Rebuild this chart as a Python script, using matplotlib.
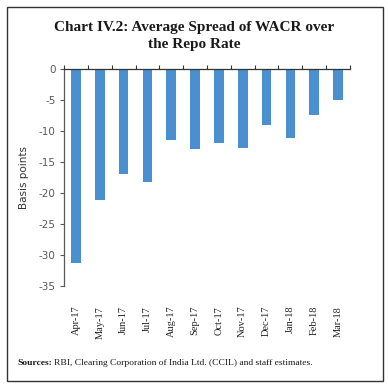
import matplotlib
matplotlib.use("Agg")
import matplotlib.pyplot as plt
from matplotlib.patches import Rectangle

months = ["Apr-17", "May-17", "Jun-17", "Jul-17", "Aug-17", "Sep-17",
          "Oct-17", "Nov-17", "Dec-17", "Jan-18", "Feb-18", "Mar-18"]
spread = [-31.2, -21.0, -16.8, -18.1, -11.3, -12.8,
          -11.8, -12.6, -8.9, -11.0, -7.4, -5.0]
yticks = [0, -5, -10, -15, -20, -25, -30, -35]

fig = plt.figure(figsize=(3.88, 3.86), dpi=100)
ax = fig.add_axes([0.165, 0.258, 0.737, 0.562])

x = list(range(len(months)))
ax.bar(x, spread, width=0.4, color="#4a8fd0", zorder=2)

ax.set_ylim(-35, 0)
ax.set_xlim(-0.5, len(months) - 0.5)
ax.set_yticks(yticks)
ax.set_yticklabels([str(v) for v in yticks], fontsize=7.5, color="#595959",
                   family="DejaVu Sans")
ax.tick_params(axis="y", length=3, color="#595959", width=0.8, pad=3)

ax.set_xticks(x)
ax.set_xticklabels(months, rotation=90, fontsize=7.5, family="Liberation Serif",
                   color="#222222")
ax.tick_params(axis="x", length=0, pad=14, bottom=True, top=False)
ax.set_xticks([i - 0.5 for i in range(len(months) + 1)], minor=True)
ax.tick_params(axis="x", which="minor", top=True, bottom=False, direction="out",
               length=3, color="#333333", width=0.8)

for s in ["right", "bottom"]:
    ax.spines[s].set_visible(False)
ax.spines["top"].set_color("#333333")
ax.spines["top"].set_linewidth(0.9)
ax.spines["left"].set_color("#595959")
ax.spines["left"].set_linewidth(0.9)

ax.set_ylabel("Basis points", fontsize=7.5, color="#333333", family="DejaVu Sans",
              labelpad=7)

fig.text(0.5, 0.908, "Chart IV.2: Average Spread of WACR over\nthe Repo Rate",
         ha="center", va="center", fontsize=11, fontweight="bold",
         family="Liberation Serif", linespacing=1.4, color="#1a1a1a")

src_y = 1 - 363 / 386
t1 = fig.text(17 / 388, src_y, "Sources:", fontsize=6.8, family="Liberation Serif",
              fontweight="bold", ha="left", va="center", color="#1a1a1a")
fig.canvas.draw()
bb = t1.get_window_extent(renderer=fig.canvas.get_renderer())
x2 = (bb.x1 + 2) / fig.bbox.width
fig.text(x2, src_y, "RBI, Clearing Corporation of India Ltd. (CCIL) and staff estimates.",
         fontsize=6.8, family="Liberation Serif", ha="left", va="center",
         color="#1a1a1a")

fig.add_artist(Rectangle((7 / 388, 1 - 381 / 386), 376 / 388, 374 / 386,
                         transform=fig.transFigure, fill=False,
                         edgecolor="#333333", linewidth=1.0))

fig.savefig("out.png", dpi=100)
